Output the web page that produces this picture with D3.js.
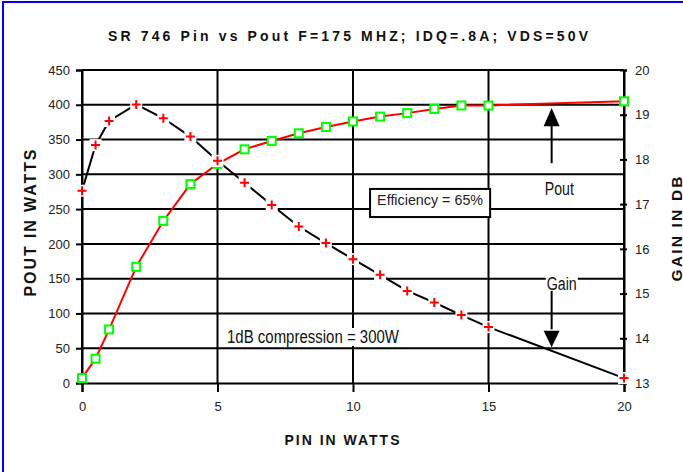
<!DOCTYPE html>
<html><head><meta charset="utf-8">
<script src="https://cdn.jsdelivr.net/npm/d3@7"></script>
<style>
html,body{margin:0;padding:0;background:#fff;}
svg{display:block;font-family:"Liberation Sans",Arial,sans-serif;}
</style></head>
<body>
<svg id="chart" width="683" height="472"></svg>
<script>
// ---- data ----
const pinValues = [0, 0.5, 1, 2, 3, 4, 5, 6, 7, 8, 9, 10, 11, 12, 13, 14, 15, 20];
const poutValues = [7, 35, 77, 167, 233, 286, 315, 336, 348, 359, 368, 376, 383, 388, 394, 399, 399, 405];
const gainValues = [17.30, 18.32, 18.86, 19.23, 18.92, 18.51, 17.97, 17.48, 16.98, 16.50, 16.13, 15.77, 15.42, 15.06, 14.80, 14.52, 14.25, 13.11];
const xTicks = [0, 5, 10, 15, 20];
const yLeftTicks = [0, 50, 100, 150, 200, 250, 300, 350, 400, 450];
const yRightTicks = [13, 14, 15, 16, 17, 18, 19, 20];
const titleText = "SR 746 Pin vs Pout F=175 MHZ; IDQ=.8A; VDS=50V";
const xTitle = "PIN IN WATTS";
const yLeftTitle = "POUT IN WATTS";
const yRightTitle = "GAIN IN DB";

const svg = d3.select("#chart");
const x = d3.scaleLinear().domain([0, 20]).range([82, 624]);
const yL = d3.scaleLinear().domain([0, 450]).range([383, 70]);
const yR = d3.scaleLinear().domain([13, 20]).range([383, 70]);

// border
svg.append("rect").attr("x", 3).attr("y", 2).attr("width", 800).attr("height", 600)
  .attr("fill", "none").attr("stroke", "#0000ff").attr("stroke-width", 2);

// title
svg.append("text").attr("x", 108).attr("y", 41).text(titleText)
  .attr("font-size", 14).attr("font-weight", "bold").attr("fill", "#111")
  .attr("textLength", 480).attr("lengthAdjust", "spacing");

// grid
const g = svg.append("g");
g.selectAll(".hg").data(yLeftTicks.filter(d => d > 0)).enter().append("line")
  .attr("x1", x(0)).attr("x2", x(20)).attr("y1", d => yL(d)).attr("y2", d => yL(d))
  .attr("stroke", "#000").attr("stroke-width", 2);
g.selectAll(".vg").data(xTicks).enter().append("line")
  .attr("y1", yL(450)).attr("y2", yL(0)).attr("x1", d => x(d)).attr("x2", d => x(d))
  .attr("stroke", "#000").attr("stroke-width", 2);

// axes
const axL = d3.axisLeft(yL).tickValues(yLeftTicks).tickSize(6).tickPadding(6);
const gl = svg.append("g").attr("transform", `translate(${x(0)},0)`).call(axL);
const axR = d3.axisRight(yR).tickValues(yRightTicks).tickFormat(d3.format("d")).tickSize(3).tickPadding(8);
const gr = svg.append("g").attr("transform", `translate(${x(20)},0)`).call(axR);
gr.selectAll(".tick line").attr("x1", -4);
const axB = d3.axisBottom(x).tickValues(xTicks).tickSize(9).tickPadding(10);
const gb = svg.append("g").attr("transform", `translate(0,${yL(0)})`).call(axB);
[gl, gr, gb].forEach(a => {
  a.select(".domain").attr("stroke", "#000").attr("stroke-width", 2);
  a.selectAll(".tick line").attr("stroke", "#000").attr("stroke-width", 2);
  a.selectAll(".tick text").attr("font-size", 13).attr("fill", "#222")
    .attr("font-family", "Liberation Sans, Arial, sans-serif");
});

// axis titles
svg.append("text").attr("x", 342).attr("y", 445).attr("text-anchor", "middle").text(xTitle)
  .attr("font-size", 14).attr("font-weight", "bold").attr("fill", "#111")
  .attr("textLength", 115).attr("lengthAdjust", "spacing");
svg.append("text").attr("transform", "translate(36,223) rotate(-90)").attr("text-anchor", "middle")
  .text(yLeftTitle).attr("font-size", 16).attr("font-weight", "bold").attr("fill", "#111")
  .attr("textLength", 147).attr("lengthAdjust", "spacing");
svg.append("text").attr("transform", "translate(681.5,229) rotate(-90)").attr("text-anchor", "middle")
  .text(yRightTitle).attr("font-size", 15.5).attr("font-weight", "bold").attr("fill", "#111")
  .attr("textLength", 105).attr("lengthAdjust", "spacing");

// series data
const poutPts = pinValues.map((p, i) => ({x: p, y: poutValues[i]}));
const gainPts = pinValues.map((p, i) => ({x: p, y: gainValues[i]}));

// gain line (black)
svg.append("path").datum(gainPts)
  .attr("d", d3.line().x(d => x(d.x)).y(d => yR(d.y)))
  .attr("fill", "none").attr("stroke", "#000").attr("stroke-width", 2);

// pout line (red)
svg.append("path").datum(poutPts)
  .attr("d", d3.line().x(d => x(d.x)).y(d => yL(d.y)))
  .attr("fill", "none").attr("stroke", "#ff0000").attr("stroke-width", 2);

// pout squares
svg.selectAll(".sq").data(poutPts).enter().append("rect")
  .attr("x", d => x(d.x) - 4).attr("y", d => yL(d.y) - 4).attr("width", 8).attr("height", 8)
  .attr("fill", "#fff").attr("stroke", "#00ff00").attr("stroke-width", 2);

// gain plus markers with white background
const gp = svg.selectAll(".pl").data(gainPts).enter().append("g")
  .attr("transform", d => `translate(${x(d.x)},${yR(d.y)})`);
gp.append("rect").attr("x", -6).attr("y", -6).attr("width", 12).attr("height", 12).attr("fill", "#fff");
gp.append("path").attr("d", "M-4.5,0H4.5M0,-4.5V4.5").attr("stroke", "#ff0000").attr("stroke-width", 2);

// annotations
const effBox = svg.append("g");
effBox.append("rect").attr("x", x(10.63)).attr("y", yL(279)).attr("width", x(15.06) - x(10.63))
  .attr("height", yL(238.6) - yL(279)).attr("fill", "#fff").attr("stroke", "#000").attr("stroke-width", 2);
effBox.append("text").attr("x", x(10.89)).attr("y", yL(256)).text("Efficiency = 65%")
  .attr("font-size", 14).attr("fill", "#222").attr("textLength", 106).attr("lengthAdjust", "spacingAndGlyphs");

function label(txt, px, py, len, padTop, padBottom) {
  const grp = svg.append("g");
  grp.append("rect").attr("x", px - 1).attr("y", py - padTop).attr("width", len + 2)
    .attr("height", padTop + padBottom).attr("fill", "#fff");
  grp.append("text").attr("x", px).attr("y", py).text(txt)
    .attr("font-size", 18).attr("fill", "#111").attr("textLength", len).attr("lengthAdjust", "spacingAndGlyphs");
}
label("Pout", x(17.08), yL(270), 29, 15, 3);
label("Gain", x(17.15), yL(133.7), 30, 15, 4);
label("1dB compression = 300W", x(5.35), yL(57.5), 172, 15, 3);

// arrows
const ax = x(17.33);
// up arrow (Pout)
svg.append("line").attr("x1", ax).attr("x2", ax).attr("y1", yL(316)).attr("y2", yL(372))
  .attr("stroke", "#000").attr("stroke-width", 2);
svg.append("path").attr("d", `M${ax},${yL(395.4)}L${ax - 8},${yL(369)}L${ax + 8},${yL(369)}Z`).attr("fill", "#000");
// down arrow (Gain)
svg.append("line").attr("x1", ax).attr("x2", ax).attr("y1", yR(15.06)).attr("y2", yR(14.2))
  .attr("stroke", "#000").attr("stroke-width", 2);
svg.append("path").attr("d", `M${ax},${yR(13.80)}L${ax - 8},${yR(14.17)}L${ax + 8},${yR(14.17)}Z`).attr("fill", "#000");
</script>
</body></html>
